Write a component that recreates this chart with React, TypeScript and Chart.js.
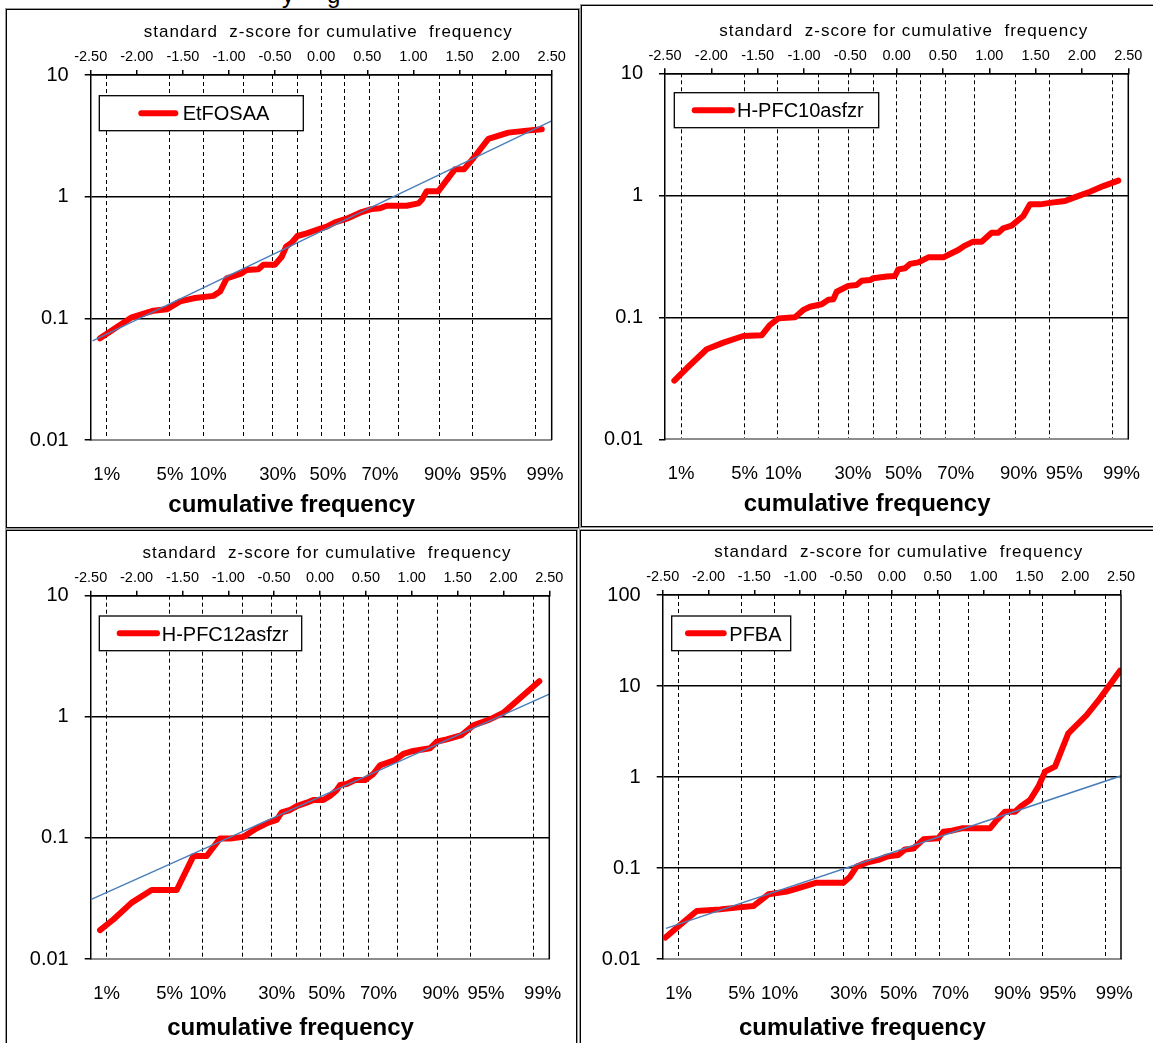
import React, { useEffect, useRef } from 'react';
import { Chart, registerables } from 'chart.js';

Chart.register(...registerables);

const FONT = '"Liberation Sans", Arial, Helvetica, sans-serif';

// ---------- axis / tick data ----------
// dashed grid lines at these cumulative frequencies (z-score of 1,5,10,20,...,90,95,99 %)
const percentileZ = [-2.3263, -1.6449, -1.2816, -0.8416, -0.5244, -0.2533, 0, 0.2533, 0.5244, 0.8416, 1.2816, 1.6449, 2.3263];
// bottom text labels and where (in z units) they sit
const percentLabelText = ['1%', '5%', '10%', '30%', '50%', '70%', '90%', '95%', '99%'];
const percentLabelZ = [-2.326, -1.64, -1.225, -0.472, 0.074, 0.638, 1.316, 1.809, 2.427];
const zScoreTicks = [-2.5, -2, -1.5, -1, -0.5, 0, 0.5, 1, 1.5, 2, 2.5];
const decadeTicksTo10 = [0.01, 0.1, 1, 10];
const decadeTicksTo100 = [0.01, 0.1, 1, 10, 100];
const seriesNames = ['EtFOSAA', 'H-PFC10asfzr', 'H-PFC12asfzr', 'PFBA'];

// ---------- series values (z-score, concentration) ----------
const etfosaaZ = [-2.399, -2.055, -1.82, -1.676, -1.531, -1.368, -1.17, -1.097, -1.025, -0.862, -0.808, -0.682, -0.627, -0.501, -0.428, -0.381, -0.32, -0.258, -0.157, 0.0, 0.06, 0.15, 0.277, 0.421, 0.548, 0.638, 0.71, 0.927, 1.054, 1.09, 1.144, 1.271, 1.451, 1.549, 1.65, 1.813, 2.03, 2.229, 2.392];
const etfosaaConc = [0.0686, 0.102, 0.1156, 0.1186, 0.138, 0.147, 0.153, 0.166, 0.213, 0.234, 0.25, 0.253, 0.276, 0.276, 0.321, 0.388, 0.419, 0.475, 0.5, 0.55, 0.567, 0.615, 0.659, 0.738, 0.792, 0.802, 0.843, 0.843, 0.881, 0.939, 1.11, 1.11, 1.68, 1.68, 2.07, 2.98, 3.36, 3.49, 3.58];
const etfosaaTrendZ = [-2.48, 2.5];
const etfosaaTrendConc = [0.0652, 4.2];

const hpfc10Z = [-2.399, -2.266, -2.05, -1.87, -1.655, -1.457, -1.367, -1.277, -1.097, -1.007, -0.935, -0.809, -0.737, -0.683, -0.647, -0.522, -0.432, -0.378, -0.288, -0.252, -0.108, -0.018, 0.018, 0.09, 0.144, 0.234, 0.342, 0.504, 0.576, 0.665, 0.737, 0.827, 0.917, 1.025, 1.097, 1.151, 1.241, 1.367, 1.439, 1.547, 1.673, 1.817, 1.942, 2.086, 2.23, 2.392];
const hpfc10Conc = [0.0303, 0.0382, 0.0547, 0.062, 0.0703, 0.0711, 0.0865, 0.098, 0.1, 0.115, 0.122, 0.128, 0.139, 0.1405, 0.162, 0.181, 0.184, 0.199, 0.202, 0.209, 0.216, 0.218, 0.247, 0.252, 0.274, 0.282, 0.31, 0.31, 0.33, 0.356, 0.387, 0.417, 0.417, 0.494, 0.494, 0.537, 0.564, 0.677, 0.843, 0.843, 0.871, 0.899, 0.976, 1.07, 1.19, 1.32];

const hpfc12Z = [-2.398, -2.253, -2.053, -1.835, -1.562, -1.381, -1.235, -1.09, -0.981, -0.836, -0.69, -0.563, -0.472, -0.418, -0.327, -0.254, -0.145, -0.073, 0.036, 0.109, 0.182, 0.218, 0.291, 0.382, 0.491, 0.581, 0.654, 0.818, 0.908, 1.017, 1.199, 1.272, 1.381, 1.544, 1.672, 1.853, 1.999, 2.217, 2.391];
const hpfc12Conc = [0.0173, 0.0212, 0.0292, 0.0371, 0.0371, 0.0708, 0.0708, 0.099, 0.099, 0.102, 0.12, 0.1336, 0.1406, 0.1626, 0.17, 0.183, 0.1953, 0.2055, 0.2055, 0.222, 0.248, 0.273, 0.279, 0.301, 0.301, 0.337, 0.397, 0.44, 0.493, 0.522, 0.549, 0.622, 0.651, 0.707, 0.849, 0.952, 1.08, 1.51, 1.97];
const hpfc12TrendZ = [-2.5, 2.5];
const hpfc12TrendConc = [0.0309, 1.54];

const pfbaZ = [-2.47, -2.311, -2.129, -1.875, -1.693, -1.511, -1.347, -1.147, -0.965, -0.82, -0.529, -0.456, -0.384, -0.275, -0.147, -0.056, 0.071, 0.144, 0.235, 0.344, 0.507, 0.562, 0.653, 0.762, 1.071, 1.144, 1.235, 1.344, 1.416, 1.507, 1.598, 1.671, 1.78, 1.925, 2.125, 2.271, 2.489];
const pfbaConc = [0.0172, 0.0237, 0.0337, 0.0351, 0.0367, 0.0382, 0.0514, 0.055, 0.0624, 0.069, 0.069, 0.0803, 0.1035, 0.1146, 0.1226, 0.1333, 0.139, 0.16, 0.164, 0.2065, 0.212, 0.25, 0.257, 0.273, 0.273, 0.336, 0.416, 0.416, 0.484, 0.558, 0.783, 1.145, 1.3, 3.02, 4.8, 7.31, 14.7];
const pfbaTrendZ = [-2.464, 2.507];
const pfbaTrendConc = [0.0217, 1.035];

// ---------- layout (page pixels) ----------
type Rect = { l: number; t: number; r: number; b: number };
type LegendBox = { x: number; y: number; w: number; h: number; lineX1: number; lineX2: number; textX: number };
type PanelLayout = { box: Rect; plot: Rect; legend: LegendBox; bottomTitleOffset: number };

const LAYOUTS: PanelLayout[] = [
  {
    box: { l: 6, t: 9, r: 579, b: 528 },
    plot: { l: 90.7, t: 75, r: 551.7, b: 440 },
    legend: { x: 99.3, y: 95.7, w: 204, h: 35, lineX1: 138.3, lineX2: 178.3, textX: 182.7 },
    bottomTitleOffset: 71.7,
  },
  {
    box: { l: 581, t: 5, r: 1165, b: 527 },
    plot: { l: 665, t: 73.3, r: 1128.3, b: 439.3 },
    legend: { x: 674.3, y: 92.7, w: 204.4, h: 35, lineX1: 691.7, lineX2: 735, textX: 737 },
    bottomTitleOffset: 71.7,
  },
  {
    box: { l: 6, t: 530, r: 577, b: 1060 },
    plot: { l: 90.7, t: 595.7, r: 549.3, b: 959 },
    legend: { x: 99.3, y: 616, w: 202.4, h: 34.7, lineX1: 116.7, lineX2: 160, textX: 161.7 },
    bottomTitleOffset: 76,
  },
  {
    box: { l: 580, t: 530, r: 1165, b: 1060 },
    plot: { l: 662.7, t: 595, r: 1121, b: 959 },
    legend: { x: 671.7, y: 616, w: 119, h: 34.7, lineX1: 685, lineX2: 726.7, textX: 729.3 },
    bottomTitleOffset: 76,
  },
];

type PanelData = {
  name: string;
  z: number[];
  conc: number[];
  trendZ?: number[];
  trendConc?: number[];
  yTicks: number[];
};

const PANELS: PanelData[] = [
  { name: seriesNames[0], z: etfosaaZ, conc: etfosaaConc, trendZ: etfosaaTrendZ, trendConc: etfosaaTrendConc, yTicks: decadeTicksTo10 },
  { name: seriesNames[1], z: hpfc10Z, conc: hpfc10Conc, yTicks: decadeTicksTo10 },
  { name: seriesNames[2], z: hpfc12Z, conc: hpfc12Conc, trendZ: hpfc12TrendZ, trendConc: hpfc12TrendConc, yTicks: decadeTicksTo10 },
  { name: seriesNames[3], z: pfbaZ, conc: pfbaConc, trendZ: pfbaTrendZ, trendConc: pfbaTrendConc, yTicks: decadeTicksTo100 },
];

const TOP_TITLE = 'standard  z-score for cumulative  frequency';
const BOTTOM_TITLE = 'cumulative frequency';

function Panel({ data, layout }: { data: PanelData; layout: PanelLayout }) {
  const ref = useRef<HTMLCanvasElement | null>(null);
  const cl = layout.box.l + 1;
  const ct = layout.box.t + 1;
  const W = layout.box.r - layout.box.l - 2;
  const H = layout.box.b - layout.box.t - 2;

  useEffect(() => {
    if (!ref.current) return;
    const yW = layout.plot.l - cl;
    const topH = layout.plot.t - ct;
    const botH = ct + H - layout.plot.b;
    const padR = cl + W - layout.plot.r;
    const yMin = data.yTicks[0];
    const yMax = data.yTicks[data.yTicks.length - 1];

    const noSidePadding = (s: any) => {
      s.paddingLeft = 0;
      s.paddingRight = 0;
    };

    const overlay = {
      id: 'overlay',
      afterDraw(chart: any) {
        const { ctx, chartArea: a } = chart;
        ctx.save();
        // right frame line
        ctx.strokeStyle = '#000';
        ctx.lineWidth = 1.5;
        ctx.setLineDash([]);
        ctx.beginPath();
        ctx.moveTo(a.right, a.top);
        ctx.lineTo(a.right, a.bottom);
        ctx.stroke();

        // legend
        const lg = layout.legend;
        const lx = lg.x - cl;
        const ly = lg.y - ct;
        ctx.fillStyle = '#fff';
        ctx.fillRect(lx, ly, lg.w, lg.h);
        ctx.strokeStyle = '#000';
        ctx.lineWidth = 1.3;
        ctx.strokeRect(lx, ly, lg.w, lg.h);
        const cy = ly + lg.h / 2;
        ctx.strokeStyle = '#ff0000';
        ctx.lineWidth = 6;
        ctx.lineCap = 'round';
        ctx.beginPath();
        ctx.moveTo(lg.lineX1 - cl + 3, cy);
        ctx.lineTo(lg.lineX2 - cl - 3, cy);
        ctx.stroke();
        ctx.fillStyle = '#000';
        ctx.font = `20px ${FONT}`;
        ctx.textAlign = 'left';
        ctx.textBaseline = 'alphabetic';
        ctx.fillText(data.name, lg.textX - cl, cy + 7.2);

        // top title
        const cx = (a.left + a.right) / 2;
        ctx.font = `17px ${FONT}`;
        ctx.textAlign = 'center';
        (ctx as any).letterSpacing = '1px';
        ctx.fillText(TOP_TITLE, cx + 7, a.top - 37.7);
        (ctx as any).letterSpacing = '0px';

        // bottom title
        ctx.font = `bold 24px ${FONT}`;
        ctx.fillText(BOTTOM_TITLE, cx - 29.5, a.bottom + layout.bottomTitleOffset);
        ctx.restore();
      },
    };

    const datasets: any[] = [];
    if (data.trendZ && data.trendConc) {
      datasets.push({
        label: data.name + ' trend',
        data: data.trendZ.map((z, i) => ({ x: z, y: data.trendConc![i] })),
        borderColor: '#4a7ebb',
        borderWidth: 1.5,
        pointRadius: 0,
        xAxisID: 'x',
        yAxisID: 'y',
      });
    }
    datasets.push({
      label: data.name,
      data: data.z.map((z, i) => ({ x: z, y: data.conc[i] })),
      borderColor: '#ff0000',
      borderWidth: 6,
      pointRadius: 0,
      borderCapStyle: 'round',
      borderJoinStyle: 'round',
      tension: 0,
      xAxisID: 'x',
      yAxisID: 'y',
    });

    const chart = new Chart(ref.current, {
      type: 'line',
      data: { datasets },
      plugins: [overlay],
      options: {
        animation: false,
        responsive: false,
        maintainAspectRatio: false,
        devicePixelRatio: window.devicePixelRatio || 1,
        layout: { padding: { left: 0, top: 0, right: padR, bottom: 0 } },
        plugins: { legend: { display: false }, tooltip: { enabled: false }, title: { display: false } },
        scales: {
          // dashed percentile grid lines
          x: {
            type: 'linear',
            position: 'bottom',
            weight: 0,
            min: -2.5,
            max: 2.5,
            afterBuildTicks: (s: any) => {
              s.ticks = percentileZ.map((v) => ({ value: v }));
            },
            afterFit: (s: any) => {
              s.height = 0;
              noSidePadding(s);
            },
            ticks: { display: false, autoSkip: false, padding: 0 },
            grid: { color: '#000', lineWidth: 1, drawTicks: false },
            border: { display: true, color: '#8c8c8c', width: 2, dash: [4, 3] },
          },
          // percent text labels
          xp: {
            type: 'linear',
            position: 'bottom',
            weight: 1,
            min: -2.5,
            max: 2.5,
            afterBuildTicks: (s: any) => {
              s.ticks = percentLabelZ.map((v) => ({ value: v }));
            },
            afterFit: (s: any) => {
              s.height = botH;
              noSidePadding(s);
            },
            ticks: {
              autoSkip: false,
              maxRotation: 0,
              minRotation: 0,
              padding: 24,
              color: '#000',
              font: { family: FONT, size: 18.5 },
              callback: (_v: any, i: number) => percentLabelText[i],
            },
            grid: { display: false, drawTicks: false, drawOnChartArea: false },
            border: { display: false },
          },
          x2: {
            type: 'linear',
            position: 'top',
            min: -2.5,
            max: 2.5,
            afterBuildTicks: (s: any) => {
              s.ticks = zScoreTicks.map((v) => ({ value: v }));
            },
            afterFit: (s: any) => {
              s.height = topH;
              noSidePadding(s);
            },
            ticks: {
              autoSkip: false,
              maxRotation: 0,
              minRotation: 0,
              padding: 4,
              color: '#000',
              font: { family: FONT, size: 14.5 },
              callback: (v: any) => Number(v).toFixed(2),
            },
            grid: { drawOnChartArea: false, drawTicks: true, tickLength: 5, color: '#000', lineWidth: 1.5 },
            border: { display: true, color: '#000', width: 1.5 },
          },
          y: {
            type: 'logarithmic',
            position: 'left',
            min: yMin,
            max: yMax,
            afterBuildTicks: (s: any) => {
              s.ticks = data.yTicks.map((v) => ({ value: v }));
            },
            afterFit: (s: any) => {
              s.width = yW;
            },
            ticks: {
              autoSkip: false,
              padding: 16,
              color: '#000',
              font: { family: FONT, size: 20 },
              callback: (v: any) => String(v),
            },
            grid: {
              color: (c: any) => (c.tick && c.tick.value <= yMin * 1.001 ? 'rgba(0,0,0,0)' : '#000'),
              tickColor: '#000',
              lineWidth: 1.5,
              tickLength: 6,
              drawTicks: true,
            },
            border: { display: true, color: '#000', width: 1.5 },
          },
        },
      } as any,
    });
    return () => chart.destroy();
  }, [data, layout]);

  return (
    <div
      style={{
        position: 'absolute',
        left: layout.box.l,
        top: layout.box.t,
        width: layout.box.r - layout.box.l,
        height: layout.box.b - layout.box.t,
        boxSizing: 'border-box',
        border: '1px solid #000',
        boxShadow: '0 0 0 1px #9a9a9a',
        background: '#fff',
      }}
    >
      <canvas ref={ref} width={W} height={H} style={{ display: 'block', width: W, height: H }} />
    </div>
  );
}

export default function App() {
  return (
    <div
      style={{
        position: 'fixed',
        left: 0,
        top: 0,
        width: 1153,
        height: 1043,
        overflow: 'hidden',
        background: '#fff',
        fontFamily: FONT,
      }}
    >
      <span style={{ position: 'absolute', left: 282, top: -17, fontSize: 24, lineHeight: '24px', color: '#000' }}>y</span>
      <span style={{ position: 'absolute', left: 327, top: -17, fontSize: 24, lineHeight: '24px', color: '#000' }}>g</span>
      {PANELS.map((p, i) => (
        <Panel key={p.name} data={p} layout={LAYOUTS[i]} />
      ))}
    </div>
  );
}
